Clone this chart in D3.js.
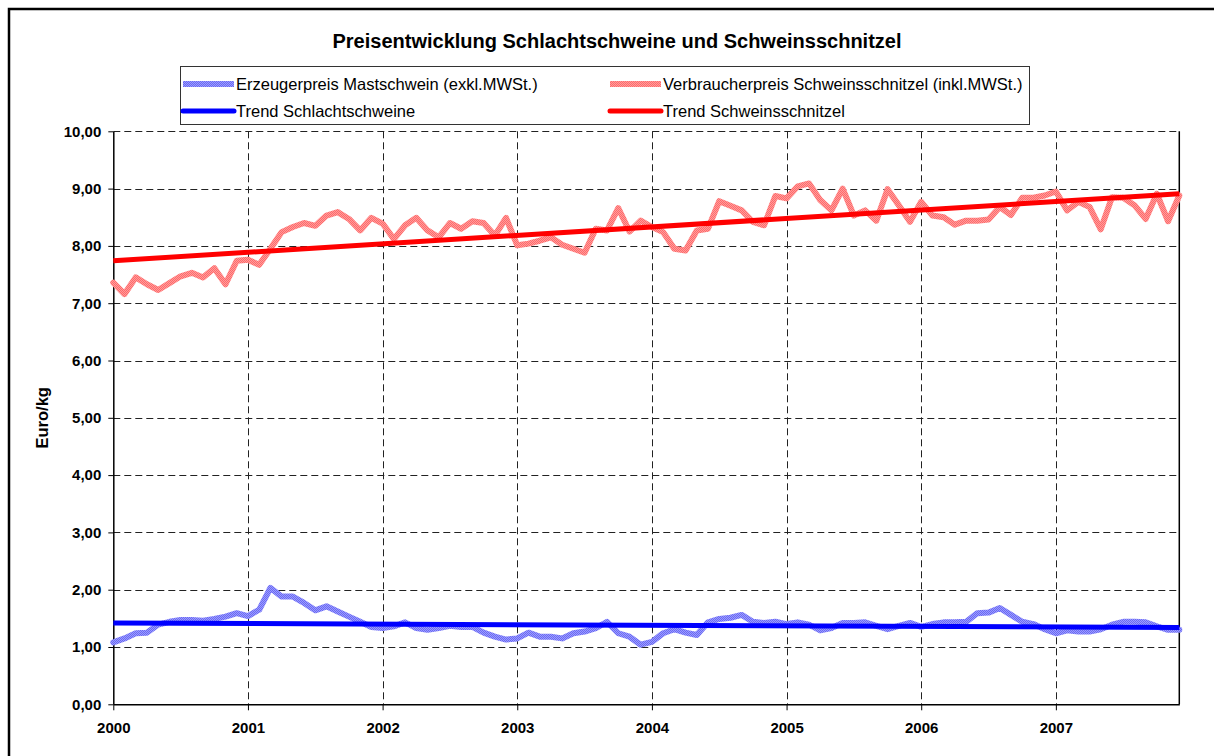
<!DOCTYPE html>
<html lang="de">
<head>
<meta charset="UTF-8">
<title>Preisentwicklung Schlachtschweine und Schweinsschnitzel</title>
<style>
    body, html { margin: 0; padding: 0; background: #fff; }
    svg { display: block; font-family: Arial, "Liberation Sans", sans-serif; }
</style>
</head>
<body>
<script src="https://d3js.org/d3.v7.min.js"></script>
<script>
// month index 0 = Jan 2000 ... 95 = Dec 2007
var years = ["2000", "2001", "2002", "2003", "2004", "2005", "2006", "2007"];

// Verbraucherpreis Schweinsschnitzel (inkl. MWSt.), Euro/kg
var verbraucherpreis = [
    7.36, 7.16, 7.45, 7.33, 7.23, 7.35, 7.47, 7.53, 7.45, 7.61, 7.33, 7.74,
    7.76, 7.67, 7.95, 8.24, 8.33, 8.40, 8.35, 8.53, 8.59, 8.47, 8.27, 8.49,
    8.39, 8.12, 8.36, 8.49, 8.27, 8.15, 8.40, 8.30, 8.43, 8.40, 8.18, 8.49,
    8.01, 8.04, 8.09, 8.15, 8.02, 7.95, 7.88, 8.30, 8.27, 8.66, 8.25, 8.44,
    8.33, 8.24, 7.95, 7.92, 8.27, 8.30, 8.78, 8.70, 8.62, 8.42, 8.36, 8.87,
    8.83, 9.04, 9.09, 8.80, 8.62, 9.00, 8.53, 8.62, 8.44, 8.99, 8.71, 8.42,
    8.77, 8.53, 8.50, 8.37, 8.44, 8.44, 8.46, 8.68, 8.54, 8.84, 8.84, 8.88,
    8.95, 8.62, 8.77, 8.68, 8.29, 8.85, 8.84, 8.71, 8.47, 8.91, 8.43, 8.88
];

// Erzeugerpreis Mastschwein (exkl. MWSt.), Euro/kg
var erzeugerpreis = [
    1.08, 1.15, 1.24, 1.25, 1.39, 1.44, 1.47, 1.47, 1.46, 1.49, 1.53, 1.59,
    1.54, 1.65, 2.03, 1.88, 1.88, 1.77, 1.64, 1.71, 1.62, 1.53, 1.44, 1.35,
    1.33, 1.36, 1.43, 1.33, 1.30, 1.33, 1.37, 1.35, 1.35, 1.25, 1.18, 1.13,
    1.15, 1.25, 1.18, 1.18, 1.15, 1.24, 1.27, 1.33, 1.44, 1.24, 1.18, 1.04,
    1.09, 1.24, 1.31, 1.25, 1.21, 1.43, 1.49, 1.51, 1.56, 1.44, 1.42, 1.44,
    1.40, 1.43, 1.39, 1.29, 1.33, 1.42, 1.42, 1.43, 1.37, 1.31, 1.37, 1.42,
    1.35, 1.40, 1.43, 1.43, 1.44, 1.59, 1.60, 1.68, 1.56, 1.44, 1.40, 1.31,
    1.24, 1.29, 1.27, 1.27, 1.31, 1.39, 1.44, 1.44, 1.43, 1.36, 1.30, 1.30
];

// linear trend, value at first and last month
var trendSchnitzel = [7.74, 8.91];
var trendSchwein = [1.42, 1.34];

var yTicks = [0, 1, 2, 3, 4, 5, 6, 7, 8, 9, 10];

var width = 1214, height = 756;
var plotLeft = 113.3, plotRight = 1179.3, plotTop = 131.3, plotBottom = 704.3;

var svg = d3.select("body").append("svg")
    .attr("width", width)
    .attr("height", height);

svg.append("rect").attr("width", width).attr("height", height).attr("fill", "#fff");

// outer chart border (runs off the picture to the right and bottom)
svg.append("rect")
    .attr("x", 9).attr("y", 9)
    .attr("width", 1240).attr("height", 780)
    .attr("fill", "none").attr("stroke", "#000").attr("stroke-width", 2.5);

// textured stroke patterns, like the excel line fill
var defs = svg.append("defs");
function checker(id, c1, c2) {
    var p = defs.append("pattern").attr("id", id)
        .attr("patternUnits", "userSpaceOnUse").attr("width", 2).attr("height", 2);
    p.append("rect").attr("width", 2).attr("height", 2).attr("fill", c1);
    p.append("rect").attr("width", 1).attr("height", 1).attr("fill", c2);
    p.append("rect").attr("x", 1).attr("y", 1).attr("width", 1).attr("height", 1).attr("fill", c2);
}
checker("patRed", "#ff9c9c", "#ff6a6a");
checker("patBlue", "#9c9cff", "#6a6af2");

var x = d3.scaleLinear().domain([0, 95]).range([plotLeft, plotRight]);
var y = d3.scaleLinear().domain([0, 10]).range([plotBottom, plotTop]);

var fmt = function(d) { return d.toFixed(2).replace(".", ","); };

// grid lines
svg.append("g").selectAll("line")
    .data(yTicks.filter(function(d) { return d > 0; }))
    .enter().append("line")
    .attr("x1", plotLeft).attr("x2", plotRight)
    .attr("y1", function(d) { return Math.round(y(d)) + 0.5; })
    .attr("y2", function(d) { return Math.round(y(d)) + 0.5; })
    .attr("stroke", "#222").attr("stroke-width", 1).attr("stroke-dasharray", "7,4");

svg.append("g").selectAll("line")
    .data(years.slice(1))
    .enter().append("line")
    .attr("x1", function(d, i) { return Math.round(x((i + 1) * 12)) + 0.5; })
    .attr("x2", function(d, i) { return Math.round(x((i + 1) * 12)) + 0.5; })
    .attr("y1", plotTop).attr("y2", plotBottom)
    .attr("stroke", "#222").attr("stroke-width", 1).attr("stroke-dasharray", "7,4");

// right border of plot area
svg.append("line")
    .attr("x1", plotRight).attr("x2", plotRight).attr("y1", plotTop).attr("y2", plotBottom)
    .attr("stroke", "#000").attr("stroke-width", 1.5);

// axes
var yAxis = svg.append("g")
    .attr("transform", "translate(" + plotLeft + ",0)")
    .call(d3.axisLeft(y).tickValues(yTicks).tickFormat(fmt).tickSize(5).tickSizeOuter(0).tickPadding(7));

var xAxis = svg.append("g")
    .attr("transform", "translate(0," + plotBottom + ")")
    .call(d3.axisBottom(x).tickValues(d3.range(0, 96, 12))
        .tickFormat(function(d) { return years[d / 12]; })
        .tickSize(6).tickSizeOuter(0).tickPadding(12));

[yAxis, xAxis].forEach(function(g) {
    g.select(".domain").attr("stroke", "#000").attr("stroke-width", 1.5);
    g.selectAll(".tick line").attr("stroke", "#000");
    g.selectAll("text").attr("fill", "#000")
        .style("font-size", "15px").style("font-weight", "bold")
        .style("font-family", "Arial, 'Liberation Sans', sans-serif");
});

// series
var line = d3.line()
    .x(function(d, i) { return x(i); })
    .y(function(d) { return y(d); });

svg.append("path").datum(erzeugerpreis)
    .attr("d", line).attr("fill", "none")
    .attr("stroke", "url(#patBlue)").attr("stroke-width", 6)
    .attr("stroke-linejoin", "round").attr("stroke-linecap", "round");

svg.append("path").datum(verbraucherpreis)
    .attr("d", line).attr("fill", "none")
    .attr("stroke", "url(#patRed)").attr("stroke-width", 6)
    .attr("stroke-linejoin", "round").attr("stroke-linecap", "round");

var trendLine = d3.line()
    .x(function(d, i) { return x(i * 95); })
    .y(function(d) { return y(d); });

svg.append("path").datum(trendSchwein)
    .attr("d", trendLine).attr("fill", "none")
    .attr("stroke", "#0000ff").attr("stroke-width", 5);

svg.append("path").datum(trendSchnitzel)
    .attr("d", trendLine).attr("fill", "none")
    .attr("stroke", "#ff0000").attr("stroke-width", 5);

// title
svg.append("text")
    .attr("x", 617).attr("y", 48)
    .attr("text-anchor", "middle")
    .style("font-size", "20px").style("font-weight", "bold")
    .text("Preisentwicklung Schlachtschweine und Schweinsschnitzel");

// y axis title
svg.append("text")
    .attr("transform", "translate(48," + ((plotTop + plotBottom) / 2) + ") rotate(-90)")
    .attr("text-anchor", "middle")
    .style("font-size", "16.5px").style("font-weight", "bold")
    .text("Euro/kg");

// legend
var legendItems = [
    { name: "Erzeugerpreis Mastschwein (exkl.MWSt.)", stroke: "url(#patBlue)", col: 0, row: 0 },
    { name: "Verbraucherpreis Schweinsschnitzel (inkl.MWSt.)", stroke: "url(#patRed)", col: 1, row: 0 },
    { name: "Trend Schlachtschweine", stroke: "#0000ff", col: 0, row: 1 },
    { name: "Trend Schweinsschnitzel", stroke: "#ff0000", col: 1, row: 1 }
];

svg.append("rect")
    .attr("x", 180.5).attr("y", 66.5).attr("width", 849).attr("height", 58)
    .attr("fill", "#fff").attr("stroke", "#333").attr("stroke-width", 1);

var lg = svg.append("g").selectAll("g")
    .data(legendItems).enter().append("g")
    .attr("transform", function(d) {
        return "translate(" + (d.col ? 610 : 183) + "," + (d.row ? 111 : 84) + ")";
    });

lg.append("line")
    .attr("x1", 0).attr("x2", 51).attr("y1", 0).attr("y2", 0)
    .attr("stroke", function(d) { return d.stroke; })
    .attr("stroke-width", function(d) { return d.row ? 5 : 6; })
    .attr("stroke-linecap", function(d) { return d.row ? "round" : "butt"; });

lg.append("text")
    .attr("x", 53).attr("y", 6)
    .style("font-size", "16.5px")
    .text(function(d) { return d.name; });
</script>
</body>
</html>
